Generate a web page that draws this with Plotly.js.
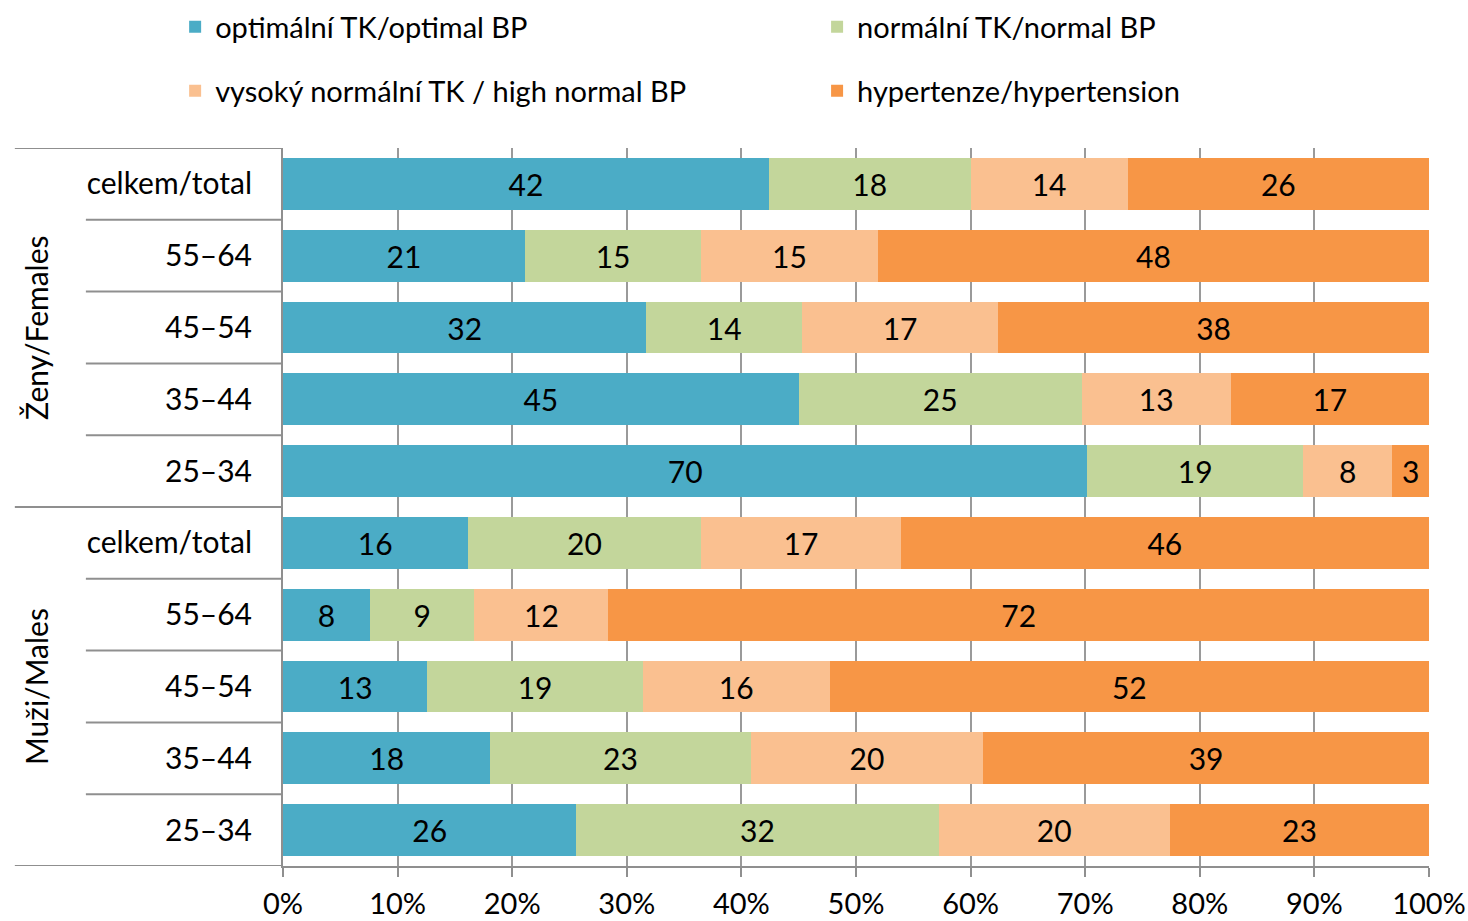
<!DOCTYPE html>
<html>
<head>
<meta charset="utf-8">
<script src="https://cdn.plot.ly/plotly-3.0.1.min.js"></script>
<style>html,body{margin:0;padding:0;background:#fff;}#chart{width:1468px;height:921px;}</style>
</head>
<body>
<div id="chart"></div>
<script>
// ---- data (rows listed top to bottom) ----
const groups = ['Ženy/Females', 'Muži/Males'];
const ageLabels = ['celkem/total', '55–64', '45–54', '35–44', '25–34'];
const seriesNames = ['optimální TK/optimal BP', 'normální TK/normal BP', 'vysoký normální TK / high normal BP', 'hypertenze/hypertension'];
const optimal      = [42.4, 21.1, 31.7, 45.0, 70.2, 16.1, 7.6, 12.6, 18.1, 25.6];
const normal       = [17.6, 15.4, 13.6, 24.7, 18.8, 20.4, 9.1, 18.8, 22.7, 31.6];
const highNormal   = [13.7, 15.4, 17.1, 13.0, 7.8, 17.4, 11.7, 16.3, 20.3, 20.2];
const hypertension = [26.3, 48.1, 37.6, 17.3, 3.2, 46.1, 71.6, 52.3, 38.9, 22.6];
const xTickVals = [0, 10, 20, 30, 40, 50, 60, 70, 80, 90, 100];
const xTickText = ['0%', '10%', '20%', '30%', '40%', '50%', '60%', '70%', '80%', '90%', '100%'];

// ---- build ----
const FONT = 'Lato, "Open Sans", sans-serif';
const FS = 30;
const colors = ['#4BACC6', '#C3D69B', '#FAC090', '#F79646'];
const rowKeys = [], rowLabels = [];
groups.forEach(g => ageLabels.forEach(a => { rowKeys.push(g + ' | ' + a); rowLabels.push(a); }));
const seriesVals = [optimal, normal, highNormal, hypertension];
const legendIds = ['legend', 'legend2', 'legend3', 'legend4'];

const traces = seriesVals.map((vals, i) => ({
  type: 'bar',
  orientation: 'h',
  name: seriesNames[i],
  x: vals,
  y: rowKeys,
  marker: {color: colors[i], line: {width: 0}},
  texttemplate: '%{x:.0f}',
  textposition: 'inside',
  insidetextanchor: 'middle',
  constraintext: 'none',
  textangle: 0,
  textfont: {family: FONT, size: FS, color: '#000'},
  hoverinfo: 'skip',
  legend: legendIds[i]
}));

const nRows = rowKeys.length;
const perGroup = ageLabels.length;
const shapes = [];
const lineCol = '#8f8f8f';
for (let b = 0; b <= nRows; b++) {
  const yb = b - 0.5;
  const isGroupEdge = (b % perGroup === 0);
  shapes.push({type: 'line', xref: 'paper', yref: 'y', x0: isGroupEdge ? -0.234 : -0.172, x1: 0, y0: yb, y1: yb,
    line: {color: lineCol, width: 2}, layer: 'above'});
}
const annotations = groups.map((g, gi) => ({
  xref: 'paper', yref: 'y', x: -0.216, y: gi * perGroup + (perGroup - 1) / 2,
  text: g, textangle: -90, showarrow: false, xanchor: 'center', yanchor: 'middle',
  font: {family: FONT, size: FS, color: '#000'}
}));

function legendAt(x, y) {
  return {orientation: 'h', xref: 'container', yref: 'container', x: x, xanchor: 'left', y: y, yanchor: 'middle',
    traceorder: 'normal', font: {family: FONT, size: FS - 1, color: '#000'}, bgcolor: 'rgba(0,0,0,0)', borderwidth: 0};
}

const layout = {
  width: 1468, height: 921,
  margin: {l: 283, r: 39, t: 148, b: 55},
  paper_bgcolor: '#fff', plot_bgcolor: '#fff',
  barmode: 'stack', bargap: 0.276,
  font: {family: FONT, size: FS, color: '#000'},
  xaxis: {
    range: [0, 100], tickvals: xTickVals, ticktext: xTickText,
    showgrid: true, gridcolor: '#9a9a9a', gridwidth: 2,
    showline: true, linecolor: lineCol, linewidth: 2,
    ticks: 'outside', ticklen: 9, tickwidth: 2, tickcolor: lineCol,
    ticklabelstandoff: 2,
    zeroline: false, fixedrange: true,
    tickfont: {family: FONT, size: FS - 1, color: '#000'}
  },
  yaxis: {
    type: 'category', categoryorder: 'array', categoryarray: rowKeys,
    range: [nRows - 0.5, -0.5],
    tickvals: rowKeys, ticktext: rowLabels,
    showline: true, linecolor: lineCol, linewidth: 2,
    ticks: '', showgrid: false, zeroline: false, fixedrange: true,
    ticklabelstandoff: 23,
    tickfont: {family: FONT, size: FS, color: '#000'}
  },
  showlegend: true,
  legend: legendAt(0.1193, 0.9707),
  legend2: legendAt(0.5566, 0.9707),
  legend3: legendAt(0.1193, 0.9012),
  legend4: legendAt(0.5566, 0.9012),
  shapes: shapes,
  annotations: annotations
};

Plotly.newPlot('chart', traces, layout, {displayModeBar: false, staticPlot: true});
</script>
</body>
</html>
